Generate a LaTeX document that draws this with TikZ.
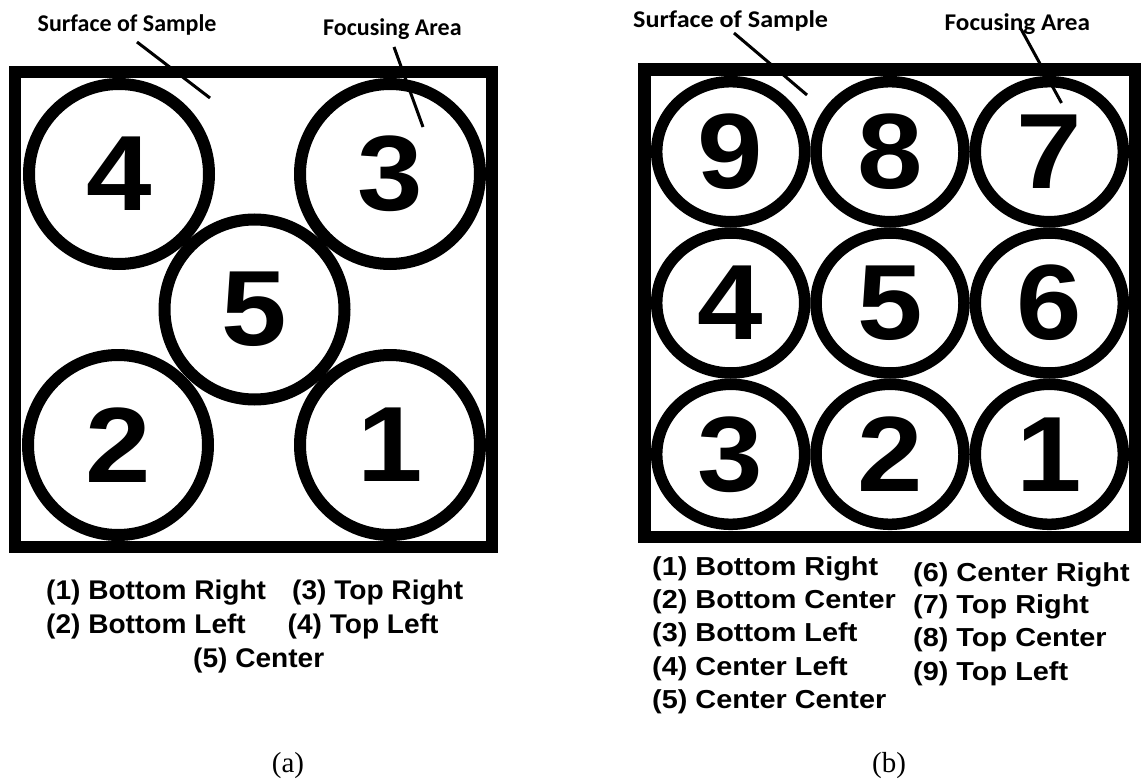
\documentclass[tikz,border=0pt]{standalone}
\usepackage{fontspec}
\usepackage{graphicx}
\usetikzlibrary{shapes.geometric}
\newfontfamily\arialf{Liberation Sans}
\newfontfamily\calf{Carlito}
\newfontfamily\timesf{Liberation Serif}
\newcommand\sxa[1]{\scalebox{1.04}[1]{#1}}
\newcommand\sxb[1]{\scalebox{1.11}[1]{#1}}
\newcommand\sxl[1]{\scalebox{1.09}[1]{#1}}
\newcommand\sxf[1]{\scalebox{1.05}[1]{#1}}
\newcommand\dg[1]{\scalebox{1.1}[1]{#1}}
\begin{document}
\begin{tikzpicture}[x=1pt,y=-1pt,
  frame/.style={draw=black,line width=12.5pt},
  digit/.style={font=\arialf\bfseries\fontsize{107}{107}\selectfont},
  circa/.style={circle,draw=black,line width=12pt,minimum size=180pt,inner sep=0pt,digit},
  circb/.style={ellipse,draw=black,line width=11.5pt,minimum width=148pt,minimum height=140pt,inner sep=0pt,digit},
  lab/.style={inner sep=0pt,anchor=base west,font=\calf\bfseries\fontsize{24}{24}\selectfont},
  capa/.style={inner sep=0pt,anchor=base west,font=\arialf\bfseries\fontsize{27}{27}\selectfont},
  capb/.style={inner sep=0pt,anchor=base west,font=\arialf\bfseries\fontsize{26}{26}\selectfont},
  sub/.style={inner sep=0pt,anchor=base,font=\timesf\fontsize{29}{29}\selectfont},
  leader/.style={draw=black,line width=3pt}]
\useasboundingbox (0,0) rectangle (1143,781);
\fill[white] (0,0) rectangle (1143,781);

% ---------- panel (a) ----------
\node[circa] (a4) at (119,174) {\dg{4}};
\node[circa] (a3) at (390,174) {\dg{3}};
\node[circa] (a5) at (254.5,309.5) {\dg{5}};
\node[circa] (a2) at (118,445) {\dg{2}};
\node[circa] (a1) at (390,445) {\dg{1}};
\draw[frame] (15,72) rectangle (492,547);

\node[lab] (asurf) at (37.5,31.7) {Surface of Sample};
\node[lab] (afoc) at (323,36) {Focusing Area};
\coordinate (as1) at (137,42);
\coordinate (as2) at (210,98);
\coordinate (af1) at (394,47);
\coordinate (af2) at (423,127);
\draw[leader] (as1) -- (as2);
\draw[leader] (af1) -- (af2);

\node[capa] (ca1) at (46,599) {\sxa{(1) Bottom Right}};
\node[capa] (ca3) at (292,599) {\sxa{(3) Top Right}};
\node[capa] (ca2) at (46,633) {\sxa{(2) Bottom Left}};
\node[capa] (ca4) at (287.5,633) {\sxa{(4) Top Left}};
\node[capa] (ca5) at (193,667) {\sxa{(5) Center}};
\node[sub] (suba) at (288,772) {(a)};

% ---------- panel (b) ----------
\node[circb] (b9) at (730.7,151.7) {\dg{9}};
\node[circb] (b8) at (890,151.7) {\dg{8}};
\node[circb] (b7) at (1049.3,151.7) {\dg{7}};
\node[circb] (b4) at (730.7,303) {\dg{4}};
\node[circb] (b5) at (890,303) {\dg{5}};
\node[circb] (b6) at (1049.3,303) {\dg{6}};
\node[circb] (b3) at (730.7,454.3) {\dg{3}};
\node[circb] (b2) at (890,454.3) {\dg{2}};
\node[circb] (b1) at (1049.3,454.3) {\dg{1}};
\draw[frame] (644.5,69.5) rectangle (1135,537);

\node[lab] (bsurf) at (633,28) {\sxl{Surface of Sample}};
\node[lab] (bfoc) at (944.5,30.7) {\sxf{Focusing Area}};
\coordinate (bs1) at (734,33);
\coordinate (bs2) at (807,95);
\coordinate (bf1) at (1021,29);
\coordinate (bf2) at (1061.5,103);
\draw[leader] (bs1) -- (bs2);
\draw[leader] (bf1) -- (bf2);

\node[capb] (cb1) at (652,575) {\sxb{(1) Bottom Right}};
\node[capb] (cb2) at (652,608) {\sxb{(2) Bottom Center}};
\node[capb] (cb3) at (652,641.7) {\sxb{(3) Bottom Left}};
\node[capb] (cb4) at (652,675) {\sxb{(4) Center Left}};
\node[capb] (cb5) at (652,708) {\sxb{(5) Center Center}};
\node[capb] (cb6) at (913,581) {\sxb{(6) Center Right}};
\node[capb] (cb7) at (913,613) {\sxb{(7) Top Right}};
\node[capb] (cb8) at (913,646.7) {\sxb{(8) Top Center}};
\node[capb] (cb9) at (913,680) {\sxb{(9) Top Left}};
\node[sub] (subb) at (889,772) {(b)};
\end{tikzpicture}
\end{document}
